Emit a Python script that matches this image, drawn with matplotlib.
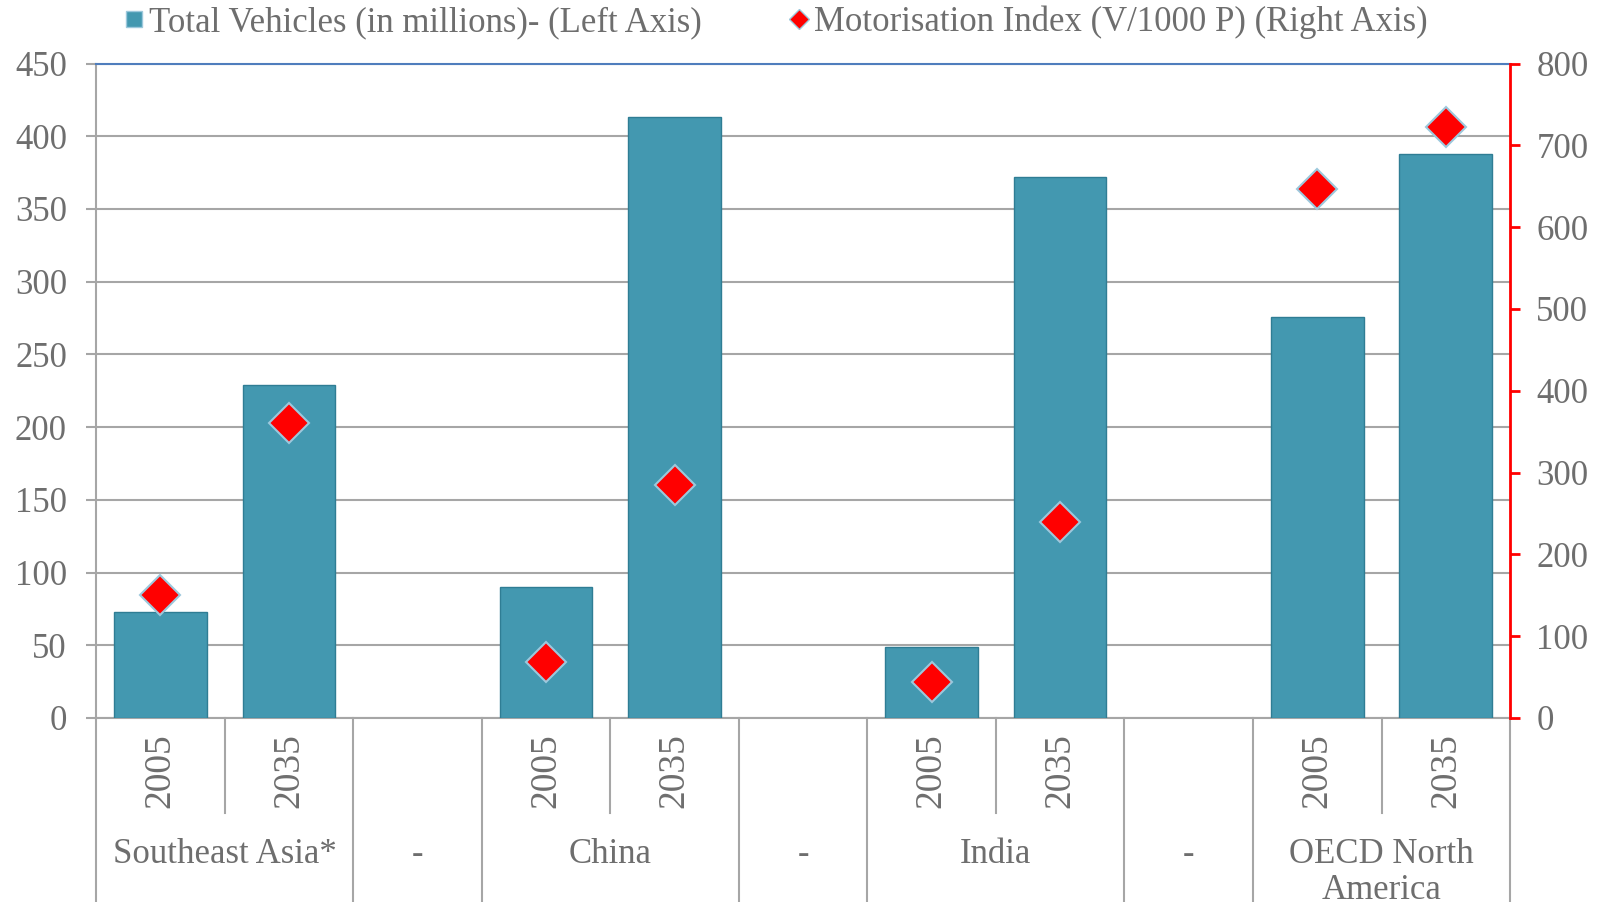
import matplotlib.pyplot as plt
import numpy as np
from matplotlib.lines import Line2D
from matplotlib.transforms import blended_transform_factory

# data (one slot per x position, None = blank separator slot)
years = ['2005', '2035', '', '2005', '2035', '', '2005', '2035', '', '2005', '2035']
vehicles = [73, 229, None, 90, 413, None, 49, 372, None, 276, 388]
motor_index = [150, 360, None, 69, 285, None, 44, 240, None, 647, 722]
groups = ['Southeast Asia*', '-', 'China', '-', 'India', '-', 'OECD North\nAmerica']
group_centers = [0.5, 2, 3.5, 5, 6.5, 8, 9.5]

bar_color = '#4398B0'
bar_edge = '#2F7D94'
txt = '#6E6E6E'
grid_c = '#A6A6A6'
font = 'Liberation Serif'

plt.rcParams['font.family'] = font

fig = plt.figure(figsize=(16.09, 9.02), dpi=100)
ax = fig.add_axes([0.0597, 0.204, 0.8788, 0.7256])

x = np.arange(len(years))
bx = [i for i, v in zip(x, vehicles) if v is not None]
bv = [v for v in vehicles if v is not None]
ax.bar(bx, bv, width=0.72, color=bar_color, edgecolor=bar_edge, linewidth=1, zorder=3)

ax.set_xlim(-0.5, len(years) - 0.5)
ax.set_ylim(0, 450)
ax.set_yticks(np.arange(0, 451, 50))
ax.yaxis.grid(True, color=grid_c, linewidth=1.5, zorder=0)
ax.set_axisbelow(True)
ax.tick_params(axis='y', colors=grid_c, labelcolor=txt, labelsize=25, length=7, width=1.5, pad=14)
ax.set_xticks([])
for s in ['left', 'bottom']:
    ax.spines[s].set_color(grid_c)
    ax.spines[s].set_linewidth(1.5)
ax.spines['top'].set_color('#4F7DBD')
ax.spines['top'].set_linewidth(1.5)
ax.spines['right'].set_visible(False)

ax2 = ax.twinx()
ax2.set_ylim(0, 800)
ax2.set_yticks(np.arange(0, 801, 100))
mx = [i for i, v in zip(x, motor_index) if v is not None]
mv = [v for v in motor_index if v is not None]
ax2.plot(mx, mv, linestyle='none', marker='D', markersize=20, color='red',
         markeredgecolor='#9CC8DC', markeredgewidth=1.5, zorder=5)
for s in ['left', 'top', 'bottom']:
    ax2.spines[s].set_visible(False)
ax2.spines['right'].set_color('red')
ax2.spines['right'].set_linewidth(2)
ax2.tick_params(axis='y', colors='red', labelcolor=txt, labelsize=25, length=7, width=2, pad=12)

# category axis drawn by hand
tr = blended_transform_factory(ax.transData, ax.transAxes)
short = [0.5, 3.5, 6.5, 9.5]
long_ = [-0.5, 1.5, 2.5, 4.5, 5.5, 7.5, 8.5, 10.5]
for b in short:
    ax.plot([b, b], [0, -0.145], transform=tr, color=grid_c, lw=1.5, clip_on=False)
for b in long_:
    ax.plot([b, b], [0, -0.3], transform=tr, color=grid_c, lw=1.5, clip_on=False)
for i, y in enumerate(years):
    if y:
        ax.text(i, -0.081, y, transform=tr, rotation=90, ha='center', va='center',
                fontsize=27, color=txt)
for c, g in zip(group_centers, groups):
    ax.text(c, -0.184, g, transform=tr, ha='center', va='top', fontsize=25,
            color=txt, linespacing=1.1)

handles = [Line2D([], [], linestyle='none', marker='s', markersize=12, color=bar_color,
                  markeredgecolor='#9CC8DC'),
           Line2D([], [], linestyle='none', marker='D', markersize=10, color='red',
                  markeredgecolor='#9CC8DC')]
labels = ['Total Vehicles (in millions)- (Left Axis)',
          'Motorisation Index (V/1000 P) (Right Axis)']
fig.legend(handles, labels, loc='center', bbox_to_anchor=(0.481, 0.975), ncol=2,
           frameon=False, fontsize=25, labelcolor=txt, handletextpad=0.02,
           columnspacing=2.4, handlelength=0.8)

fig.savefig('out.png', dpi=100)
